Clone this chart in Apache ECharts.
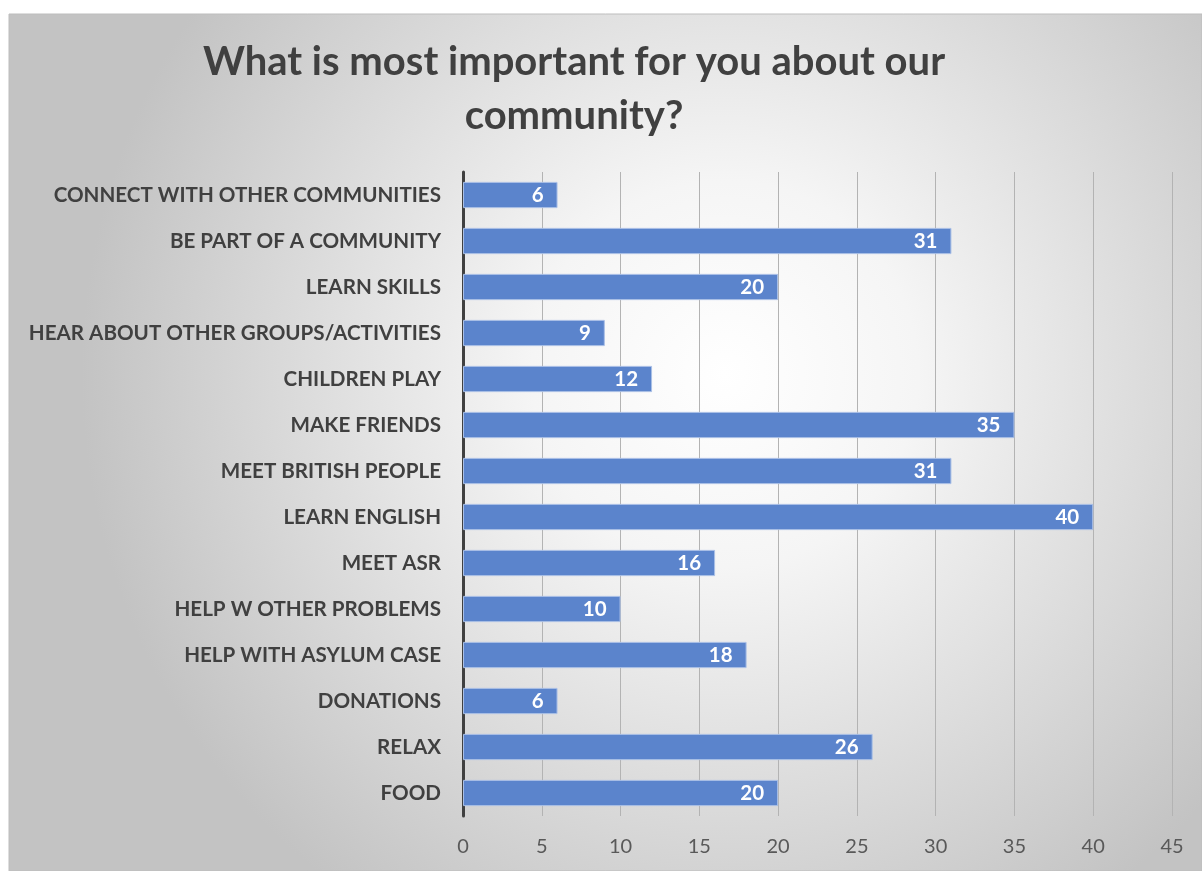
<!DOCTYPE html>
<html>
<head>
<meta charset="utf-8">
<script src="https://cdn.jsdelivr.net/npm/echarts@6/dist/echarts.min.js"></script>
<style>
html,body{margin:0;padding:0;background:#fff;}
#c{width:1202px;height:871px;}
</style>
</head>
<body>
<div id="c"></div>
<script>
const titleText = "What is most important for you about our\ncommunity?";
const categories = [
  "CONNECT WITH OTHER COMMUNITIES",
  "BE PART OF A COMMUNITY",
  "LEARN SKILLS",
  "HEAR ABOUT OTHER GROUPS/ACTIVITIES",
  "CHILDREN PLAY",
  "MAKE FRIENDS",
  "MEET BRITISH PEOPLE",
  "LEARN ENGLISH",
  "MEET ASR",
  "HELP W OTHER PROBLEMS",
  "HELP WITH ASYLUM CASE",
  "DONATIONS",
  "RELAX",
  "FOOD"
];
const values = [6, 31, 20, 9, 12, 35, 31, 40, 16, 10, 18, 6, 26, 20];
const xMin = 0, xMax = 45, xStep = 5;

const FONT = "Lato";
const chart = echarts.init(document.getElementById('c'), null, {renderer: 'canvas'});
chart.setOption({
  backgroundColor: '#ffffff',
  animation: false,
  graphic: [{
    type: 'rect',
    z: -10,
    shape: {x: 9, y: 14, width: 1193, height: 857},
    style: {
      fill: new echarts.graphic.RadialGradient(0.6, 0.42, 0.75, [
        {offset: 0, color: '#ffffff'},
        {offset: 0.3, color: '#f5f5f5'},
        {offset: 1, color: '#c3c3c3'}
      ]),
      stroke: '#bdbdbd',
      lineWidth: 1
    }
  }],
  title: {
    text: titleText,
    left: 569,
    top: 30,
    textAlign: 'center',
    textStyle: {
      fontFamily: FONT,
      fontWeight: 'bold',
      fontSize: 40,
      lineHeight: 54,
      color: '#404040'
    }
  },
  grid: {left: 463, right: 30, top: 172, bottom: 55, containLabel: false},
  xAxis: {
    type: 'value',
    min: xMin, max: xMax, interval: xStep,
    axisLine: {show: false},
    axisTick: {show: false},
    splitLine: {show: true, lineStyle: {color: '#b3b3b3', width: 1}},
    axisLabel: {fontFamily: FONT, fontSize: 20, color: '#595959', margin: 21}
  },
  yAxis: {
    type: 'category',
    data: categories,
    inverse: true,
    axisLine: {show: true, lineStyle: {color: '#404040', width: 3}},
    axisTick: {show: false},
    axisLabel: {fontFamily: FONT, fontWeight: 'bold', fontSize: 20.6, color: '#404040', margin: 22}
  },
  series: [{
    type: 'bar',
    data: values,
    barWidth: '57%',
    itemStyle: {color: '#5b84cc', borderColor: '#a9bfe6', borderWidth: 1},
    label: {
      show: true,
      position: 'insideRight',
      distance: 14,
      fontFamily: FONT,
      fontWeight: 'bold',
      fontSize: 20.5,
      color: '#ffffff'
    }
  }]
});
</script>
</body>
</html>
